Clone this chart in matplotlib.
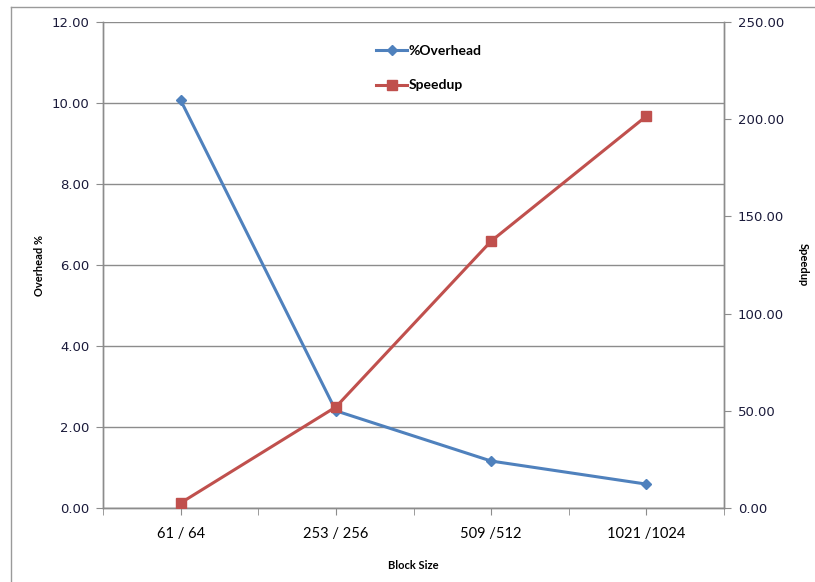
import matplotlib.pyplot as plt
from matplotlib.lines import Line2D
from matplotlib.ticker import FormatStrFormatter, MultipleLocator

block_sizes = ['61 / 64', '253 / 256', '509 /512', '1021 /1024']
overhead = [10.07, 2.40, 1.16, 0.59]
speedup = [2.6, 52.0, 137.3, 201.6]

blue = '#4F81BD'
red = '#C0504D'
grid_gray = '#8C8C8C'
label_font = ['Lato', 'DejaVu Sans']

fig = plt.figure(figsize=(8.15, 5.82), dpi=100)
ax = fig.add_axes([0.1264, 0.1271, 0.762, 0.8351])
ax2 = ax.twinx()

x = list(range(len(block_sizes)))
l1, = ax.plot(x, overhead, color=blue, lw=2.2, marker='D', ms=5,
              label='%Overhead', zorder=3)
l2, = ax2.plot(x, speedup, color=red, lw=2.2, marker='s', ms=7,
               label='Speedup', zorder=3)

ax.set_xlim(-0.5, 3.5)
ax.set_ylim(0, 12)
ax2.set_ylim(0, 250)
ax.yaxis.set_major_locator(MultipleLocator(2))
ax2.yaxis.set_major_locator(MultipleLocator(50))
ax.yaxis.set_major_formatter(FormatStrFormatter('%.2f'))
ax2.yaxis.set_major_formatter(FormatStrFormatter('%.2f'))

ax.set_xticks(x)
ax.set_xticklabels(block_sizes, family=label_font, fontsize=10.5)
ax.set_xticks([-0.5, 0.5, 1.5, 2.5, 3.5], minor=True)
ax.tick_params(axis='x', which='both', length=5, color=grid_gray, pad=9)
ax.tick_params(axis='y', length=5, color=grid_gray, labelsize=9.5,
               labelcolor='#1a1a3a', pad=5)
ax2.tick_params(axis='y', length=5, color=grid_gray, labelsize=9.5,
                labelcolor='#1a1a3a', pad=5)

ax.grid(axis='y', color=grid_gray, lw=1)
ax.set_axisbelow(True)
for a in (ax, ax2):
    a.spines['top'].set_visible(False)
    for s in ('left', 'right', 'bottom'):
        a.spines[s].set_color(grid_gray)
        a.spines[s].set_linewidth(1)

ax.set_xlabel('Block Size', family=label_font, fontsize=8, fontweight='bold')
ax.set_ylabel('Overhead %', family=label_font, fontsize=8, fontweight='bold')
ax2.set_ylabel('Speedup', family=label_font, fontsize=8, fontweight='bold',
               rotation=270)
ax.xaxis.set_label_coords(0.5, -0.107)
ax.yaxis.set_label_coords(-0.094, 0.5)
ax2.yaxis.set_label_coords(1.136, 0.5)

ax2.legend(handles=[l1, l2], loc='upper left', bbox_to_anchor=(0.42, 0.978),
           frameon=False, labelspacing=1.6, handlelength=2.2,
           handletextpad=0.1,
           prop={'family': label_font, 'size': 10, 'weight': 'bold'})

# outer chart border
fig.add_artist(Line2D([0.0135, 0.0135], [0, 0.988], color='#9a9a9a', lw=1))
fig.add_artist(Line2D([0.0135, 1], [0.988, 0.988], color='#9a9a9a', lw=1))

fig.savefig('out.png', dpi=100)
